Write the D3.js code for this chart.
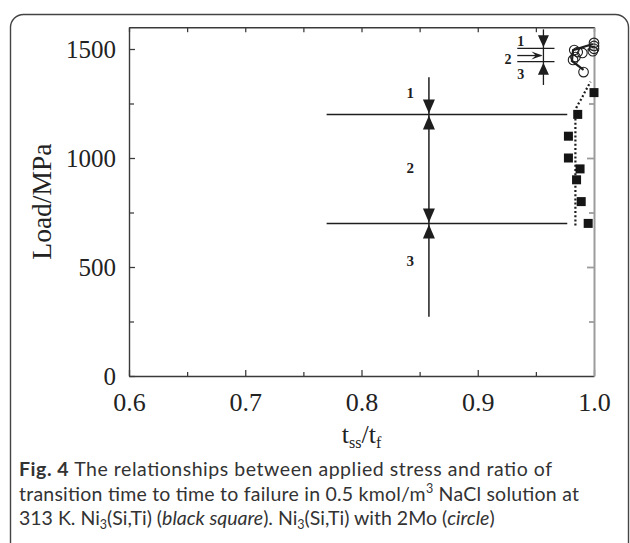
<!DOCTYPE html>
<html>
<head>
<meta charset="utf-8">
<script src="https://cdn.jsdelivr.net/npm/d3@7"></script>
<style>
  html, body { margin: 0; padding: 0; background: #fff; }
  svg { display: block; }
</style>
</head>
<body>
<svg id="chart" width="630" height="543"></svg>
<script>
// ---------------- data ----------------
const xTickValues = [0.6, 0.7, 0.8, 0.9, 1.0];
const xTickLabels = ["0.6", "0.7", "0.8", "0.9", "1.0"];
const xMinorValues = [0.65, 0.75, 0.85, 0.95];
const yTickValues = [0, 500, 1000, 1500];
const yTickLabels = ["0", "500", "1000", "1500"];
const yMinorValues = [250, 750, 1250];

// Ni3(Si,Ti) — black squares
const squareX = [1.0, 0.986, 0.978, 0.978, 0.988, 0.985, 0.989, 0.995];
const squareY = [1300, 1200, 1100, 1000, 950, 900, 800, 700];

// Ni3(Si,Ti) with 2Mo — circles
const circleX = [1.0, 1.0, 1.0, 0.999, 0.986, 0.984, 0.982, 0.990, 0.983, 0.991];
const circleY = [1528, 1514, 1501, 1490, 1486, 1463, 1450, 1482, 1495, 1394];

// solid connecting line of the circle series
const circleLineX = [0.999, 0.982, 0.981, 0.991];
const circleLineY = [1523, 1495, 1445, 1404];

// dotted guide line of the square series
const dottedX = [0.984, 0.984, 0.990, 0.997];
const dottedY = [690, 1210, 1280, 1350];

// stage boundaries and annotation
const stageLevels = [700, 1200];
const stageLineX = [0.770, 0.977];
const stageArrowX = 0.858;
const stageArrowTop = 1370;
const stageArrowBottom = 272;
const stageLabels = ["1", "2", "3"];
const stageLabelX = 0.842;
const stageLabelY = [1300, 955, 530];

// small inset schematic (top right)
const insetLevels = [1503, 1442];
const insetLineX = [0.934, 0.966];
const insetVertX = 0.9565;
const insetTop = 1590;
const insetBottom = 1335;
const insetMidY = 1470;
const insetArrowFromX = 0.934;
const insetLabels = ["1", "2", "3"];
const insetLabelX = [0.937, 0.926, 0.937];
const insetLabelY = [1537, 1454, 1385];

const xTitle = "t";
const yTitle = "Load/MPa";

// ---------------- layout ----------------
const svg = d3.select("#chart");
const pL = 129, pR = 594, pT = 27.2, pB = 376;
const x = d3.scaleLinear().domain([0.6, 1.0]).range([pL, pR]);
const y = d3.scaleLinear().domain([0, 1600]).range([pB, pT]);
const axisColor = "#3a3a3a";
const serif = "'Liberation Serif', 'DejaVu Serif', serif";

// outer rounded frame
svg.append("rect")
  .attr("x", 10.5).attr("y", 14.5)
  .attr("width", 618).attr("height", 560)
  .attr("rx", 13).attr("ry", 13)
  .attr("fill", "none").attr("stroke", "#444").attr("stroke-width", 1.4);

// ---------------- axes ----------------
function styleAxis(g, color, width) {
  g.select(".domain").attr("stroke", color).attr("stroke-width", width);
  g.selectAll(".tick line").attr("stroke", color).attr("stroke-width", width * 0.9);
}

// bottom
const gB = svg.append("g").attr("transform", `translate(0,${pB})`)
  .call(d3.axisBottom(x).tickValues(xTickValues).tickSize(-6).tickSizeOuter(0)
    .tickFormat((d, i) => xTickLabels[i]));
styleAxis(gB, axisColor, 1.4);
gB.selectAll(".tick text").attr("dy", null).attr("y", 35)
  .attr("font-family", serif).attr("font-size", 26).attr("fill", "#222");
const gBm = svg.append("g").attr("transform", `translate(0,${pB})`)
  .call(d3.axisBottom(x).tickValues(xMinorValues).tickSize(-4).tickSizeOuter(0).tickFormat(""));
styleAxis(gBm, axisColor, 1.4);
gBm.select(".domain").remove();

// top
const gT = svg.append("g").attr("transform", `translate(0,${pT})`)
  .call(d3.axisTop(x).tickValues(xTickValues.concat(xMinorValues)).tickSize(-5).tickSizeOuter(0).tickFormat(""));
styleAxis(gT, axisColor, 1.4);

// left
const gL = svg.append("g").attr("transform", `translate(${pL},0)`)
  .call(d3.axisLeft(y).tickValues(yTickValues).tickSize(-6).tickSizeOuter(0)
    .tickFormat((d, i) => yTickLabels[i]));
styleAxis(gL, axisColor, 1.4);
gL.selectAll(".tick text").attr("x", -13).attr("dy", "0.34em")
  .attr("font-family", serif).attr("font-size", 25).attr("fill", "#222");
const gLm = svg.append("g").attr("transform", `translate(${pL},0)`)
  .call(d3.axisLeft(y).tickValues(yMinorValues).tickSize(-5).tickSizeOuter(0).tickFormat(""));
styleAxis(gLm, axisColor, 1.4);
gLm.select(".domain").remove();

// right (grey)
const gR = svg.append("g").attr("transform", `translate(${pR},0)`)
  .call(d3.axisRight(y).tickValues(yTickValues.concat(yMinorValues).filter(v => v > 0)).tickSize(-5).tickSizeOuter(0).tickFormat(""));
styleAxis(gR, "#9c9c9c", 2);
gR.selectAll(".tick line").filter(d => yTickValues.includes(d)).attr("x2", -7);

// axis titles
const xt = svg.append("text")
  .attr("x", (pL + pR) / 2).attr("y", 443)
  .attr("text-anchor", "middle")
  .attr("font-family", serif).attr("font-size", 26).attr("fill", "#222");
xt.append("tspan").text(xTitle);
xt.append("tspan").attr("font-size", 16).attr("dy", 5).text("ss");
xt.append("tspan").attr("dy", -5).text("/t");
xt.append("tspan").attr("font-size", 16).attr("dy", 5).text("f");

svg.append("text")
  .attr("transform", `translate(51,${(pT + pB) / 2}) rotate(-90)`)
  .attr("text-anchor", "middle")
  .attr("font-family", serif).attr("font-size", 27.5).attr("fill", "#222")
  .text(yTitle);

// ---------------- annotations ----------------
const ink = "#1e1e1e";
const annot = svg.append("g");

function arrowHead(g, cx, tipY, dir, w, h) {
  const pts = [[cx, tipY], [cx - w / 2, tipY - dir * h], [cx + w / 2, tipY - dir * h]];
  g.append("path").attr("d", d3.line()(pts) + "Z").attr("fill", ink);
}
function arrowHeadH(g, tipX, cy, w, h) {
  const pts = [[tipX, cy], [tipX - h, cy - w / 2], [tipX - h * 0.6, cy], [tipX - h, cy + w / 2]];
  g.append("path").attr("d", d3.line()(pts) + "Z").attr("fill", ink);
}

stageLevels.forEach(v => {
  annot.append("line")
    .attr("x1", x(stageLineX[0])).attr("x2", x(stageLineX[1]))
    .attr("y1", y(v)).attr("y2", y(v))
    .attr("stroke", ink).attr("stroke-width", 1.5);
});
annot.append("line")
  .attr("x1", x(stageArrowX)).attr("x2", x(stageArrowX))
  .attr("y1", y(stageArrowTop)).attr("y2", y(stageArrowBottom))
  .attr("stroke", ink).attr("stroke-width", 1.5);
const ax = x(stageArrowX);
arrowHead(annot, ax, y(stageLevels[1]) - 1, 1, 12, 14);
arrowHead(annot, ax, y(stageLevels[1]) + 1, -1, 12, 14);
arrowHead(annot, ax, y(stageLevels[0]) - 1, 1, 12, 14);
arrowHead(annot, ax, y(stageLevels[0]) + 1, -1, 12, 14);
stageLabels.forEach((t, i) => {
  annot.append("text")
    .attr("x", x(stageLabelX)).attr("y", y(stageLabelY[i]))
    .attr("dy", "0.35em").attr("text-anchor", "middle")
    .attr("font-family", serif).attr("font-weight", "bold").attr("font-size", 15)
    .attr("fill", ink).text(t);
});

insetLevels.forEach(v => {
  annot.append("line")
    .attr("x1", x(insetLineX[0])).attr("x2", x(insetLineX[1]))
    .attr("y1", y(v)).attr("y2", y(v))
    .attr("stroke", ink).attr("stroke-width", 1.3);
});
const ix = x(insetVertX);
annot.append("line").attr("x1", ix).attr("x2", ix)
  .attr("y1", y(insetTop)).attr("y2", y(insetBottom))
  .attr("stroke", ink).attr("stroke-width", 1.3);
arrowHead(annot, ix, y(insetLevels[0]) - 1, 1, 11, 12);
arrowHead(annot, ix, y(insetLevels[1]) + 1, -1, 11, 12);
annot.append("line")
  .attr("x1", x(insetArrowFromX)).attr("x2", ix - 2)
  .attr("y1", y(insetMidY)).attr("y2", y(insetMidY))
  .attr("stroke", ink).attr("stroke-width", 1.3);
arrowHeadH(annot, ix - 1, y(insetMidY), 8, 11);
insetLabels.forEach((t, i) => {
  annot.append("text")
    .attr("x", x(insetLabelX[i])).attr("y", y(insetLabelY[i]))
    .attr("dy", "0.35em").attr("text-anchor", "middle")
    .attr("font-family", serif).attr("font-weight", "bold").attr("font-size", 14)
    .attr("fill", ink).text(t);
});

// ---------------- data marks ----------------
const marks = svg.append("g");
marks.append("path")
  .datum(dottedX.map((d, i) => [d, dottedY[i]]))
  .attr("d", d3.line().x(d => x(d[0])).y(d => y(d[1])).curve(d3.curveMonotoneY))
  .attr("fill", "none").attr("stroke", ink).attr("stroke-width", 2.2)
  .attr("stroke-dasharray", "2,2.2");

const sq = 9;
marks.selectAll("rect.sq").data(squareX.map((d, i) => [d, squareY[i]])).enter()
  .append("rect").attr("class", "sq")
  .attr("x", d => x(d[0]) - sq / 2).attr("y", d => y(d[1]) - sq / 2)
  .attr("width", sq).attr("height", sq).attr("fill", "#151515");

marks.append("path")
  .datum(circleLineX.map((d, i) => [d, circleLineY[i]]))
  .attr("d", d3.line().x(d => x(d[0])).y(d => y(d[1])))
  .attr("fill", "none").attr("stroke", ink).attr("stroke-width", 2.2);

marks.selectAll("circle.c").data(circleX.map((d, i) => [d, circleY[i]])).enter()
  .append("circle").attr("class", "c")
  .attr("cx", d => x(d[0])).attr("cy", d => y(d[1])).attr("r", 4.8)
  .attr("fill", "none").attr("stroke", ink).attr("stroke-width", 1.1);

// ---------------- caption ----------------
const cap = svg.append("g")
  .attr("font-family", "Lato, 'Open Sans', sans-serif")
  .attr("font-size", 19.5).attr("fill", "#333");
const l1 = cap.append("text").attr("x", 19).attr("y", 476)
  .attr("textLength", 533).attr("lengthAdjust", "spacing");
l1.append("tspan").attr("font-weight", "bold").text("Fig. 4");
l1.append("tspan").text(" The relationships between applied stress and ratio of");
const l2 = cap.append("text").attr("x", 19).attr("y", 501)
  .attr("textLength", 560).attr("lengthAdjust", "spacing");
l2.append("tspan").text("transition time to time to failure in 0.5 kmol/m");
l2.append("tspan").attr("font-size", 12.5).attr("dy", -8).text("3");
l2.append("tspan").attr("dy", 8).text(" NaCl solution at");
const l3 = cap.append("text").attr("x", 19).attr("y", 525);
l3.append("tspan").text("313 K. Ni");
l3.append("tspan").attr("font-size", 12.5).attr("dy", 4).text("3");
l3.append("tspan").attr("dy", -4).text("(Si,Ti) (");
l3.append("tspan").attr("font-style", "italic").text("black square");
l3.append("tspan").text("). Ni");
l3.append("tspan").attr("font-size", 12.5).attr("dy", 4).text("3");
l3.append("tspan").attr("dy", -4).text("(Si,Ti) with 2Mo (");
l3.append("tspan").attr("font-style", "italic").text("circle");
l3.append("tspan").text(")");
</script>
</body>
</html>
